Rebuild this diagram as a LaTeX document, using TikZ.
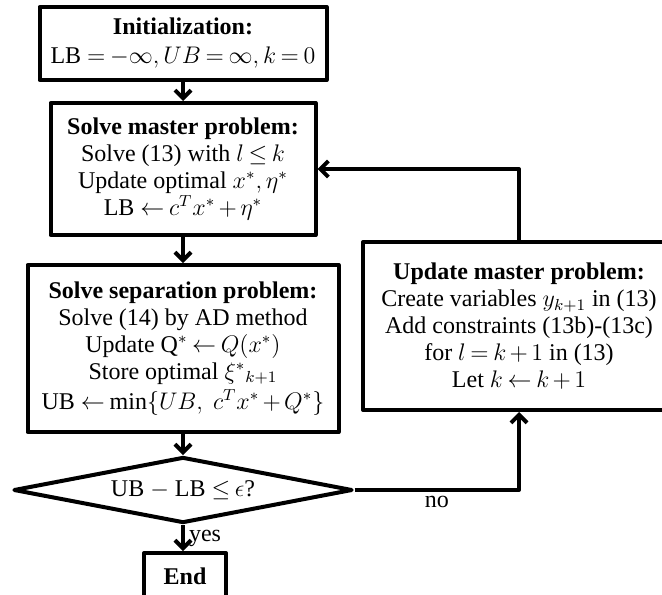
\documentclass[tikz,border=0pt]{standalone}
\usepackage{fontspec}
\setmainfont{Liberation Serif}
\usetikzlibrary{shapes.geometric,arrows.meta}
\thickmuskip=3.5mu plus 2mu
\medmuskip=2.5mu plus 1mu
\begin{document}
\begin{tikzpicture}[x=0.5pt,y=-0.5pt,line join=round,>={Straight Barb[length=4pt,width=8pt]},
	box/.style={draw,line width=2pt,align=center,inner sep=0pt,font=\fontsize{12}{13.5}\selectfont},
	test/.style={draw,diamond,line width=2pt,inner sep=0pt,aspect=5.1,font=\fontsize{12}{13.5}\selectfont},
	flow/.style={->,line width=2pt},
	lbl/.style={font=\fontsize{12}{13.5}\selectfont,inner sep=2pt}]
	\useasboundingbox (0,0) rectangle (662,594);
	\node[box,minimum width=143.5pt,minimum height=36.5pt] (init) at (183,43.5)
	{\textbf{Initialization:}\\[1pt] LB $=-\infty, UB=\infty, k=0$};
	\node[box,minimum width=132.5pt,minimum height=66pt] (master) at (183,169)
	{\textbf{Solve master problem:}\\ Solve (13) with $l\le k$\\ Update optimal $x^*,\eta^*$\\ LB $\leftarrow c^Tx^*+\eta^*$};
	\node[box,minimum width=155.5pt,minimum height=83.5pt] (sep) at (183,348.5)
	{\textbf{Solve separation problem:}\\ Solve (14) by AD method\\ Update Q$^*\leftarrow Q(x^*)$\\ Store optimal $\xi^*{}_{k+1}$\\[1.5pt] UB $\leftarrow\min\{UB,\ c^Tx^*+Q^*\}$};
	\node[test,minimum width=169.5pt,minimum height=33pt] (check) at (183,490)
	{UB $-$ LB $\le\epsilon$?};
	\node[box,minimum width=41pt,minimum height=23pt] (end) at (185,576) {\textbf{End}};
	\node[box,minimum width=156pt,minimum height=84pt] (update) at (519,326)
	{\textbf{Update master problem:}\\ Create variables $y_{k+1}$ in (13)\\ Add constraints (13b)-(13c)\\ for $l=k+1$ in (13)\\ Let $k\leftarrow k+1$};
	% main column
	\foreach \a/\b in {init/master,master/sep,sep/check}\draw[flow](\a)--(\b);
	\draw[flow] (check.south)--(check.south|-end.north) node[lbl,midway,right]{yes};
	% loop back
	\draw[flow] (check.east)-|(update.south) node[lbl,pos=0.25,below]{no};
	\draw[flow] (update.north)|-(master.east);
\end{tikzpicture}
\end{document}
